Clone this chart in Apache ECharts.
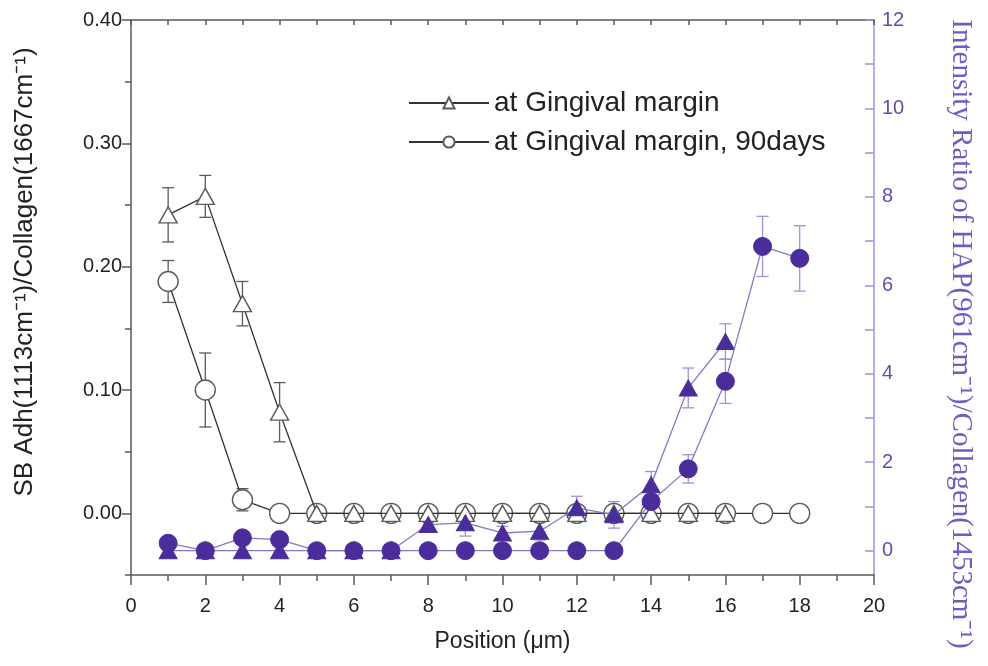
<!DOCTYPE html>
<html>
<head>
<meta charset="utf-8">
<script src="https://cdn.jsdelivr.net/npm/echarts@6/dist/echarts.min.js"></script>
<style>html,body{margin:0;padding:0;background:#fff}#c{width:988px;height:666px}</style>
</head>
<body>
<div id="c"></div>
<script>
// ---- data ----
const positions = [1,2,3,4,5,6,7,8,9,10,11,12,13,14,15,16,17,18];
const leftTicks = [0,0.1,0.2,0.3,0.4];
const leftMinorTicks = [-0.05,0.05,0.15,0.25,0.35];
const rightTicks = [0,2,4,6,8,10,12];
const rightAllTicks = [0,1,2,3,4,5,6,7,8,9,10,11,12];

// SB Adh / Collagen (left axis), open markers
const triOpen      = [0.242,0.257,0.170,0.082,0,0,0,0,0,0,0,0,0,0,0,0];
const triOpenErr   = [0.022,0.017,0.018,0.024,0,0,0,0,0,0,0,0,0,0,0,0];
const circOpen     = [0.188,0.100,0.011,0,0,0,0,0,0,0,0,0,0,0,0,0,0,0];
const circOpenErr  = [0.017,0.030,0.009,0,0,0,0,0,0,0,0,0,0,0,0,0,0,0];

// HAP / Collagen (right axis), filled markers
const triFilled     = [0,0,0,0,0,0,0,0.59,0.63,0.40,0.44,0.97,0.81,1.49,3.68,4.73];
const triFilledErr  = [0,0,0,0,0,0,0,0.10,0.30,0.15,0.20,0.26,0.30,0.30,0.45,0.40];
const circFilled    = [0.17,0,0.29,0.25,0,0,0,0,0,0,0,0,0,1.11,1.85,3.83,6.88,6.61];
const circFilledErr = [0,0,0,0,0,0,0,0,0,0,0,0,0,0.15,0.32,0.50,0.68,0.74];

const nameTri = 'at Gingival margin';
const nameCirc = 'at Gingival margin, 90days';
const xTitle = 'Position (μm)';
const leftTitle = 'SB Adh(1113cm⁻¹)/Collagen(1667cm⁻¹)';
const rightTitle = 'Intensity Ratio of HAP(961cm⁻¹)/Collagen(1453cm⁻¹)';

// ---- build ----
function pairs(vals){ return vals.map((v,i)=>[positions[i], v]); }
function errData(vals, errs){
  const out = [];
  vals.forEach((v,i)=>{ if(errs[i] > 0) out.push([positions[i], v-errs[i], v+errs[i]]); });
  return out;
}
function errSeries(vals, errs, yIdx, color){
  return {
    type:'custom', yAxisIndex:yIdx, z:1, silent:true,
    data: errData(vals, errs),
    encode:{x:0, y:[1,2]},
    renderItem:function(params, api){
      const x = api.value(0), lo = api.value(1), hi = api.value(2);
      const a = api.coord([x, hi]), b = api.coord([x, lo]);
      const w = 6;
      const st = {stroke:color, lineWidth:1.3};
      return {type:'group', children:[
        {type:'line', shape:{x1:a[0], y1:a[1], x2:b[0], y2:b[1]}, style:st},
        {type:'line', shape:{x1:a[0]-w, y1:a[1], x2:a[0]+w, y2:a[1]}, style:st},
        {type:'line', shape:{x1:b[0]-w, y1:b[1], x2:b[0]+w, y2:b[1]}, style:st}
      ]};
    }
  };
}

const gray = '#5a5a5a';
const purple = '#4a2d9a';
const purpleLine = '#8279c6';
const purpleAxis = '#9c94d8';
const purpleText = '#5b50b2';

const option = {
  animation:false,
  backgroundColor:'#fff',
  grid:{left:131, right:114, top:20, bottom:91},
  graphic:[
    {type:'text', x:25, y:272, rotation:Math.PI/2,
     style:{text:leftTitle, fontFamily:'Liberation Sans', fontSize:26, fill:'#222', align:'center', verticalAlign:'middle'}},
    {type:'text', x:961, y:334, rotation:-Math.PI/2,
     style:{text:rightTitle, fontFamily:'Liberation Serif', fontSize:29, fill:'#6a60c2', align:'center', verticalAlign:'middle'}}
  ],
  legend:{
    data:[nameTri, nameCirc],
    orient:'vertical', left:403, top:84, itemGap:11,
    itemWidth:80, itemHeight:14,
    textStyle:{fontFamily:'Liberation Sans', fontSize:28, color:'#222'}
  },
  xAxis:[
    {type:'value', min:0, max:20, interval:2, position:'bottom',
     axisLine:{onZero:false, lineStyle:{color:gray, width:1.5}},
     axisTick:{inside:false, length:10, lineStyle:{color:gray, width:1.5}},
     minorTick:{show:true, splitNumber:2, length:6, lineStyle:{color:gray, width:1.5}},
     splitLine:{show:false},
     axisLabel:{margin:21, fontFamily:'Liberation Sans', fontSize:20, color:'#222'},
     name:xTitle, nameLocation:'middle', nameGap:55,
     nameTextStyle:{fontFamily:'Liberation Sans', fontSize:23, color:'#222'}
    },
    {type:'value', min:0, max:20, interval:1, position:'top',
     axisLine:{onZero:false, lineStyle:{color:gray, width:1.5}},
     axisTick:{inside:true, length:5, lineStyle:{color:gray, width:1.5}},
     axisLabel:{show:false}, splitLine:{show:false}
    }
  ],
  yAxis:[
    {type:'value', min:-0.05, max:0.4, position:'left',
     axisLine:{show:true, onZero:false, lineStyle:{color:gray, width:1.5}},
     axisTick:{show:true, inside:false, length:9, customValues:leftTicks, lineStyle:{color:gray, width:1.5}},
     axisLabel:{customValues:leftTicks, margin:9, formatter:v=>v.toFixed(2),
       fontFamily:'Liberation Sans', fontSize:20, color:'#222'},
     splitLine:{show:false}
    },
    {type:'value', min:-0.55, max:12, position:'right',
     axisLine:{show:true, onZero:false, lineStyle:{color:purpleAxis, width:1.5}},
     axisTick:{show:true, inside:true, length:9, customValues:rightAllTicks, lineStyle:{color:purpleAxis, width:1.5}},
     axisLabel:{customValues:rightTicks, margin:8, fontFamily:'Liberation Sans', fontSize:20, color:purpleText},
     splitLine:{show:false}
    },
    {type:'value', min:-0.05, max:0.4, position:'left',
     axisLine:{show:false, onZero:false},
     axisTick:{show:true, inside:false, length:6, customValues:leftMinorTicks, lineStyle:{color:gray, width:1.5}},
     axisLabel:{show:false}, splitLine:{show:false}
    }
  ],
  series:[
    errSeries(circOpen, circOpenErr, 0, gray),
    errSeries(triOpen, triOpenErr, 0, gray),
    errSeries(triFilled, triFilledErr, 1, purpleAxis),
    errSeries(circFilled, circFilledErr, 1, purpleAxis),
    {name:nameCirc, type:'line', yAxisIndex:0, z:3, data:pairs(circOpen),
     symbol:'circle', symbolSize:20,
     itemStyle:{color:'#fff', borderColor:gray, borderWidth:1.4},
     lineStyle:{color:'#333', width:1.3}},
    {name:nameTri, type:'line', yAxisIndex:0, z:4, data:pairs(triOpen),
     symbol:'triangle', symbolSize:[18,16],
     itemStyle:{color:'#fff', borderColor:gray, borderWidth:1.4},
     lineStyle:{color:'#333', width:1.3}},
    {name:'HAP tri', type:'line', yAxisIndex:1, z:5, data:pairs(triFilled),
     symbol:'triangle', symbolSize:[18,16],
     itemStyle:{color:purple, borderColor:purple, borderWidth:1},
     lineStyle:{color:purpleLine, width:1.3}},
    {name:'HAP circ', type:'line', yAxisIndex:1, z:6, data:pairs(circFilled),
     symbol:'circle', symbolSize:18,
     itemStyle:{color:purple, borderColor:purple, borderWidth:1},
     lineStyle:{color:purpleLine, width:1.3}}
  ]
};
const chart = echarts.init(document.getElementById('c'));
chart.setOption(option);
</script>
</body>
</html>
